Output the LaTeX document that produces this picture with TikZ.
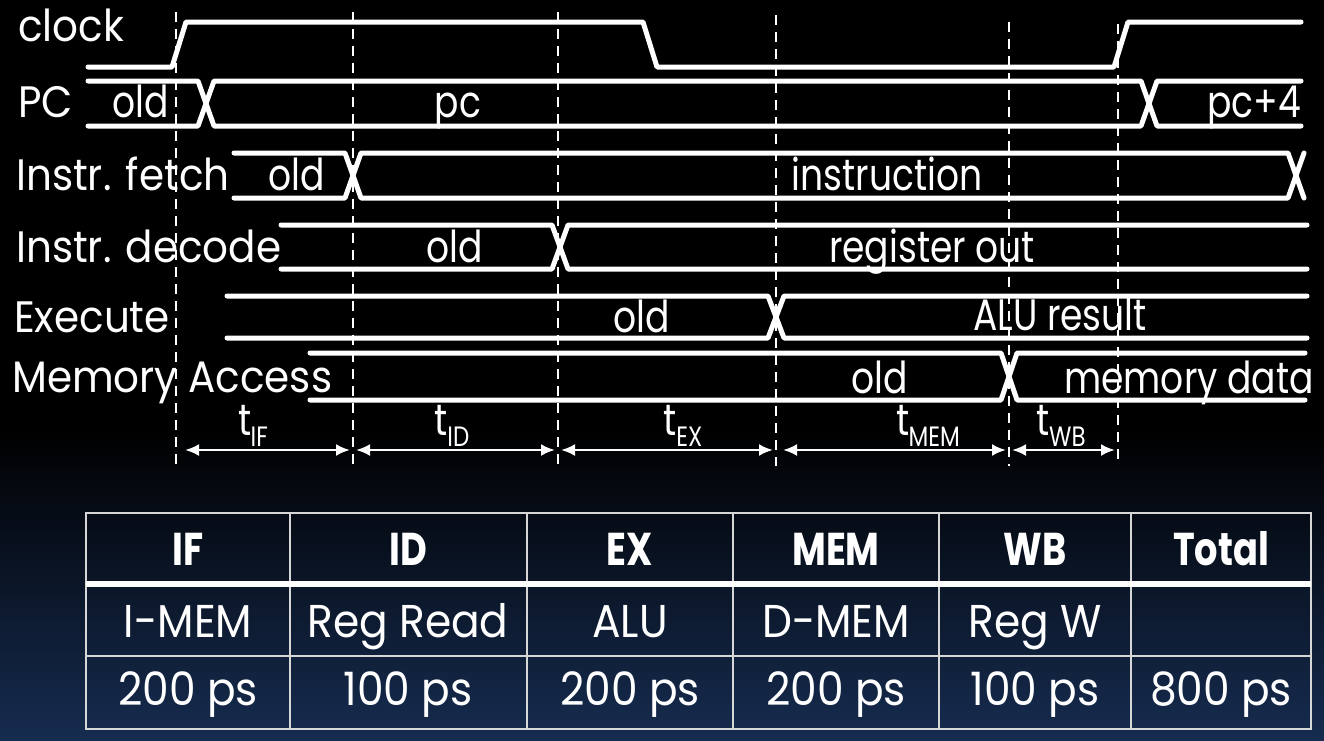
\documentclass[tikz,border=0pt]{standalone}
\usepackage{fontspec}
\setmainfont{Poppins}[FakeStretch=0.92]
\newfontfamily\valfont{Poppins}[FakeStretch=0.82]
\newfontfamily\headfont{Poppins}[FakeStretch=0.8]
\usetikzlibrary{arrows.meta}

\definecolor{navybot}{RGB}{22,44,80}
\definecolor{gridgray}{RGB}{215,215,215}

\newcommand{\tsub}[1]{t\kern-0.5pt\raisebox{-11pt}{\fontsize{28}{28}\selectfont #1}}

\begin{document}
\begin{tikzpicture}[x=1pt,y=-1pt,
  wave/.style={white, line width=5pt, line cap=round, line join=round},
  tick/.style={white, line width=2pt, dash pattern=on 10pt off 7pt},
  span/.style={white, line width=2.5pt, {Latex[length=14pt,width=12pt]}-{Latex[length=14pt,width=12pt]}, shorten <=3pt, shorten >=3pt},
  sig/.style={text=white, font=\fontsize{44}{44}\selectfont, inner sep=0pt},
  lbl/.style={sig, anchor=base west},
  val/.style={sig, font=\valfont\fontsize{44}{44}\selectfont, anchor=base},
  grid/.style={gridgray, line width=2pt},
  cell/.style={text=white, font=\fontsize{46}{46}\selectfont, inner sep=0pt, anchor=base},
  head/.style={text=white, font=\headfont\bfseries\fontsize{46}{46}\selectfont, inner sep=0pt, anchor=base}]

\useasboundingbox (0,0) rectangle (1324,740);
\fill[black] (0,0) rectangle (1324,430);
\shade[top color=black, bottom color=navybot] (0,429) rectangle (1324,740);

% stage boundaries
\draw[tick] (176,12) -- (176,466);
\draw[tick] (353,12) -- (353,466);
\draw[tick] (558,12) -- (558,466);
\draw[tick] (776,15) -- (776,466);
\draw[tick] (1009,22) -- (1009,466);
\draw[tick] (1118,24) -- (1118,466);

% signal names
\node[lbl] (clk) at (18,41) {clock};
\node[lbl] (pcl) at (18,117) {PC};
\node[lbl] (ifl) at (16,190) {Instr. fetch};
\node[lbl] (idl) at (16,262) {Instr. decode};
\node[lbl] (exl) at (14,332) {Execute};
\node[lbl] (meml) at (12,392) {Memory Access};

% waveforms
\draw[wave] (88,67) -- (172,67) -- (186,22) -- (643,22) -- (657,67) -- (1114,67) -- (1128,22) -- (1301,22);

\draw[wave] (88,81) -- (198,81) -- (214,126) -- (1141,126) -- (1157,81) -- (1301,81);
\draw[wave] (88,126) -- (198,126) -- (214,81) -- (1141,81) -- (1157,126) -- (1301,126);

\draw[wave] (234,153) -- (345,153) -- (361,198) -- (1288,198) -- (1304,153);
\draw[wave] (234,198) -- (345,198) -- (361,153) -- (1288,153) -- (1304,198);

\draw[wave] (281,225) -- (552,225) -- (568,269) -- (1307,269);
\draw[wave] (281,269) -- (552,269) -- (568,225) -- (1307,225);

\draw[wave] (227,296) -- (768,296) -- (784,338) -- (1307,338);
\draw[wave] (227,338) -- (768,338) -- (784,296) -- (1307,296);

\draw[wave] (310,353) -- (1001,353) -- (1017,400) -- (1305,400);
\draw[wave] (310,400) -- (1001,400) -- (1017,353) -- (1305,353);

% bus values
\node[val] (pcold) at (141,117) {old};
\node[val] (pcval) at (458,117) {pc};
\node[val] (pcnext) at (1254,117) {pc+4};
\node[val] (ifold) at (297,190) {old};
\node[val] (ifval) at (887,190) {instruction};
\node[val] (idold) at (455,262) {old};
\node[val] (idval) at (932,262) {register out};
\node[val] (exold) at (642,332) {old};
\node[val] (exval) at (1060,330) {ALU result};
\node[val] (memold) at (880,393) {old};
\node[val] (memval) at (1189,393) {memory data};

% stage times
\coordinate (m0) at (176,450);
\coordinate (m1) at (353,450);
\coordinate (m2) at (558,450);
\coordinate (m3) at (776,450);
\coordinate (m4) at (1009,450);
\coordinate (m5) at (1118,450);
\draw[span, shorten <=9pt] (m0) -- (m1);
\draw[span] (m1) -- (m2);
\draw[span] (m2) -- (m3);
\draw[span, shorten <=7pt] (m3) -- (m4);
\draw[span] (m4) -- (m5);

\node[val] (tif) at (253,435) {\tsub{IF}};
\node[val] (tid) at (452,435) {\tsub{ID}};
\node[val] (tex) at (683,435) {\tsub{EX}};
\node[val] (tmem) at (928,435) {\tsub{MEM}};
\node[val] (twb) at (1061,435) {\tsub{WB}};

% table
\draw[grid] (86,513) rectangle (1311,729);
\draw[grid] (290,513) -- (290,729);
\draw[grid] (527,513) -- (527,729);
\draw[grid] (733,513) -- (733,729);
\draw[grid] (939,513) -- (939,729);
\draw[grid] (1131,513) -- (1131,729);
\draw[grid] (86,656) -- (1311,656);
\draw[white, line width=6pt] (86,584) -- (1311,584);

\node[head] (hif) at (188,565) {IF};
\node[head] (hid) at (408,565) {ID};
\node[head] (hex) at (630,565) {EX};
\node[head] (hmem) at (836,565) {MEM};
\node[head] (hwb) at (1035,565) {WB};
\node[head] (htot) at (1221,565) {Total};

\node[cell] (uif) at (188,637) {I-MEM};
\node[cell] (uid) at (408,637) {Reg Read};
\node[cell] (uex) at (630,637) {ALU};
\node[cell] (umem) at (836,637) {D-MEM};
\node[cell] (uwb) at (1035,637) {Reg W};

\node[cell] (pif) at (188,705) {200 ps};
\node[cell] (pid) at (408,705) {100 ps};
\node[cell] (pex) at (630,705) {200 ps};
\node[cell] (pmem) at (836,705) {200 ps};
\node[cell] (pwb) at (1035,705) {100 ps};
\node[cell] (ptot) at (1221,705) {800 ps};
\end{tikzpicture}
\end{document}
